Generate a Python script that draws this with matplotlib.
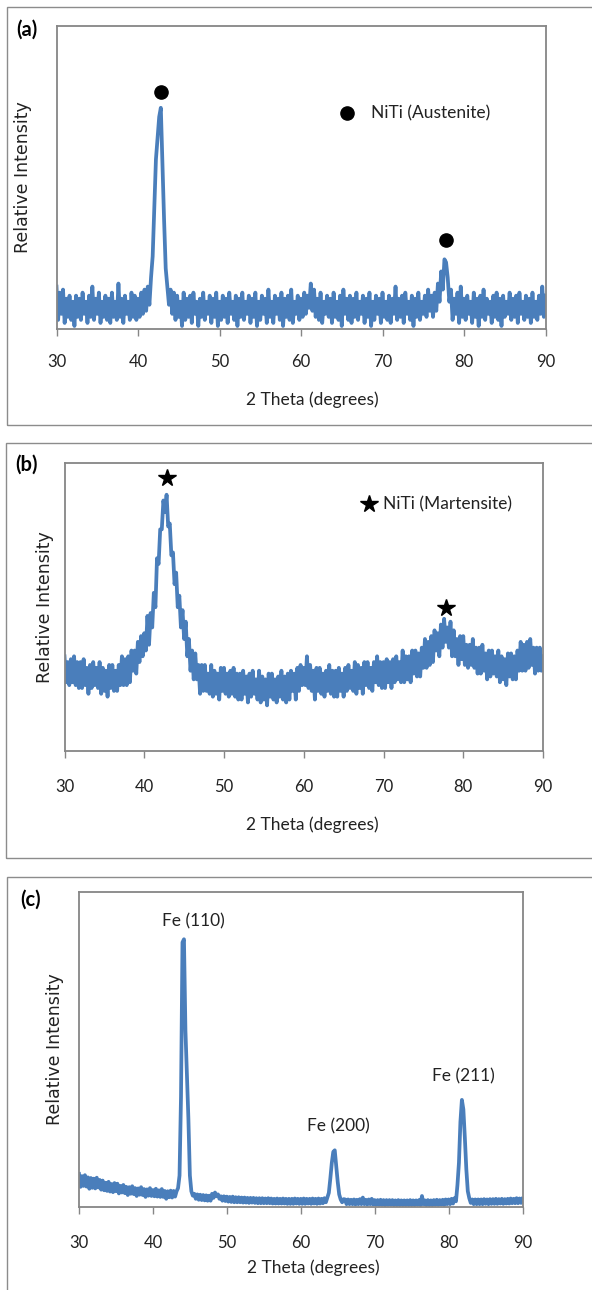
import numpy as np
import matplotlib
matplotlib.use("Agg")
import matplotlib.pyplot as plt
from matplotlib.patches import Rectangle

# 2-theta sampling grid, 0.2 degree steps
two_theta = np.round(np.arange(0, 301) * 0.2 + 30, 1)

# (a) NiTi austenite - relative intensity (0-100)
int_a = [
    14, 3, 12, 5, 13, 2, 10, 4, 11, 3,
    9, 1, 11, 4, 10, 3, 12, 5, 9, 2,
    11, 4, 14, 3, 10, 5, 12, 2, 9, 4,
    11, 3, 10, 2, 12, 4, 9, 3, 15, 4,
    10, 2, 11, 5, 9, 3, 12, 4, 11, 3,
    10, 4, 12, 5, 13, 6, 14, 8, 17, 24,
    40, 56, 63, 70, 73, 54, 36, 20, 14, 8,
    13, 5, 12, 3, 11, 4, 9, 1, 12, 3,
    10, 4, 11, 2, 12, 5, 9, 1, 10, 4,
    12, 3, 9, 5, 11, 2, 10, 4, 12, 1,
    9, 3, 11, 4, 10, 2, 12, 5, 9, 3,
    11, 1, 10, 4, 12, 3, 9, 5, 11, 2,
    10, 4, 12, 1, 9, 3, 11, 5, 10, 2,
    13, 4, 9, 2, 11, 5, 10, 3, 12, 1,
    10, 4, 11, 3, 13, 2, 9, 5, 11, 3,
    10, 4, 12, 5, 11, 7, 15, 6, 13, 4,
    10, 3, 12, 2, 9, 5, 11, 4, 10, 2,
    12, 4, 9, 3, 11, 1, 13, 5, 10, 3,
    11, 2, 10, 4, 12, 3, 9, 5, 11, 2,
    10, 4, 12, 1, 9, 3, 11, 5, 10, 2,
    12, 4, 9, 3, 11, 2, 10, 5, 14, 3,
    10, 4, 11, 2, 12, 5, 9, 3, 11, 1,
    10, 4, 12, 3, 9, 5, 11, 4, 13, 6,
    11, 4, 12, 6, 15, 9, 19, 13, 23, 22,
    17, 9, 13, 3, 10, 5, 12, 2, 14, 4,
    10, 3, 11, 5, 9, 2, 12, 4, 10, 1,
    11, 4, 13, 3, 10, 5, 9, 2, 11, 4,
    12, 3, 10, 1, 11, 4, 9, 5, 12, 3,
    10, 4, 11, 2, 12, 5, 9, 3, 11, 4,
    10, 2, 12, 4, 9, 3, 11, 5, 14, 4,
    11,
]

# (b) NiTi martensite
int_b = [
    33, 24, 31, 23, 32, 24, 33, 23, 31, 22,
    31, 22, 32, 23, 29, 20, 30, 22, 31, 23,
    29, 22, 31, 20, 29, 21, 28, 19, 30, 22,
    30, 21, 28, 21, 30, 23, 33, 23, 32, 23,
    33, 24, 35, 28, 35, 27, 38, 31, 40, 33,
    41, 35, 47, 37, 48, 43, 55, 50, 67, 65,
    77, 77, 87, 83, 89, 78, 79, 68, 69, 58,
    62, 50, 54, 43, 49, 39, 45, 33, 39, 28,
    35, 25, 34, 25, 30, 20, 30, 21, 30, 21,
    27, 20, 30, 19, 28, 20, 27, 18, 29, 21,
    29, 20, 27, 19, 28, 20, 29, 19, 27, 18,
    27, 18, 28, 20, 26, 17, 27, 19, 28, 20,
    25, 18, 28, 17, 26, 18, 25, 16, 27, 19,
    27, 18, 25, 17, 26, 19, 28, 18, 26, 17,
    27, 18, 28, 21, 27, 18, 29, 21, 30, 23,
    29, 23, 33, 22, 30, 21, 28, 18, 29, 21,
    29, 20, 27, 19, 28, 21, 30, 20, 28, 19,
    28, 19, 29, 21, 27, 19, 29, 21, 30, 22,
    28, 21, 31, 20, 30, 22, 29, 20, 31, 23,
    31, 22, 29, 21, 31, 24, 33, 23, 31, 22,
    31, 22, 32, 24, 31, 22, 32, 24, 33, 25,
    31, 24, 35, 24, 33, 25, 33, 24, 35, 27,
    35, 26, 34, 26, 36, 29, 39, 29, 38, 30,
    40, 31, 42, 35, 41, 33, 44, 36, 46, 38,
    43, 36, 45, 33, 42, 33, 39, 30, 40, 32,
    40, 30, 37, 29, 37, 30, 39, 29, 36, 27,
    36, 27, 37, 28, 34, 25, 35, 26, 35, 27,
    33, 26, 35, 24, 33, 25, 32, 23, 34, 26,
    34, 25, 33, 25, 35, 28, 38, 28, 37, 28,
    38, 29, 39, 30, 36, 27, 36, 28, 36, 28,
    33,
]

# (c) Fe (bcc)
int_c = [
    10.5, 6.4, 9.8, 6.7, 10.1, 6.5, 9.4, 5.8, 9.2, 6.1,
    9.0, 5.9, 9.3, 6.2, 8.6, 5.5, 8.4, 5.3, 7.7, 5.1,
    8.0, 4.9, 7.3, 4.7, 7.6, 5.0, 7.4, 4.3, 6.7, 4.6,
    7.0, 4.4, 6.4, 3.8, 6.3, 4.2, 6.6, 4.1, 6.0, 3.5,
    5.9, 3.9, 6.3, 3.8, 5.7, 3.2, 5.6, 3.6, 6.0, 3.5,
    5.4, 3.4, 5.8, 3.3, 5.3, 3.2, 5.7, 3.2, 5.1, 2.6,
    5.0, 3.1, 5.2, 3.0, 5.1, 3.3, 5.0, 6.0, 10.0, 35.0,
    84.0, 85.0, 56.0, 42.0, 28.0, 10.0, 5.0, 3.6, 4.2, 2.6,
    4.0, 2.3, 3.9, 2.2, 3.8, 2.1, 3.7, 2.0, 3.6, 2.0,
    4.2, 2.9, 4.6, 3.4, 4.0, 2.6, 3.4, 2.0, 3.4, 1.9,
    3.3, 1.7, 3.2, 1.6, 3.3, 1.5, 3.1, 1.5, 3.1, 1.5,
    3.0, 1.4, 3.0, 1.4, 2.9, 1.3, 2.9, 1.4, 2.9, 1.3,
    2.8, 1.2, 2.8, 1.2, 2.8, 1.2, 2.7, 1.2, 2.8, 1.2,
    2.7, 1.1, 2.6, 1.1, 2.7, 1.1, 2.6, 1.1, 2.7, 1.1,
    2.6, 1.0, 2.6, 1.0, 2.6, 1.0, 2.7, 1.1, 2.6, 1.0,
    2.6, 1.0, 2.7, 1.0, 2.6, 1.1, 2.6, 1.0, 2.7, 1.1,
    2.6, 1.0, 2.7, 1.1, 2.6, 1.2, 2.8, 1.5, 3.0, 4.5,
    9.0, 14.0, 17.5, 18.0, 13.0, 8.0, 4.0, 2.4, 1.5, 2.5,
    2.4, 0.9, 2.4, 0.9, 2.3, 0.9, 2.4, 0.8, 2.3, 0.9,
    2.5, 0.9, 3.0, 0.9, 2.3, 0.8, 2.4, 0.9, 2.6, 0.8,
    2.2, 0.7, 2.2, 0.7, 2.3, 0.7, 2.2, 0.6, 2.2, 0.7,
    2.2, 0.7, 2.2, 0.6, 2.1, 0.6, 2.2, 0.6, 2.1, 0.6,
    2.1, 0.6, 2.1, 0.6, 2.2, 0.6, 2.1, 0.6, 2.1, 0.7,
    2.2, 0.6, 3.5, 0.9, 2.1, 0.6, 2.2, 0.6, 2.1, 0.6,
    2.2, 0.7, 2.3, 0.7, 2.2, 0.8, 2.3, 0.7, 2.4, 0.9,
    2.4, 0.9, 2.6, 1.1, 2.8, 1.8, 7.0, 14.0, 27.0, 34.0,
    31.0, 22.0, 12.0, 5.0, 2.8, 1.3, 2.4, 0.9, 2.4, 0.9,
    2.4, 0.9, 2.4, 0.9, 2.5, 1.0, 2.4, 0.9, 2.5, 1.0,
    2.5, 1.0, 2.6, 1.0, 2.5, 1.1, 2.6, 1.0, 2.5, 1.1,
    2.6, 1.1, 2.7, 1.2, 2.6, 1.2, 2.8, 1.2, 2.7, 1.3,
    2.6,
]

# peak markers and annotations
aust_x = [42.8, 77.8]
aust_y = [78.2, 29.4]
aust_key = (65.7, 71.3)
mart_x = [42.8, 77.8]
mart_y = [94.7, 49.8]
mart_key = (68.2, 85.7)
fe_labels = ["Fe (110)", "Fe (200)", "Fe (211)"]
fe_x = [45.5, 65.1, 82.0]
fe_y = [90.8, 25.5, 41.6]

W, H = 592, 1290
LINE = "#4a7ebb"
GREY = "#868686"
TXT = ["Lato", "DejaVu Sans"]

fig = plt.figure(figsize=(W / 100, H / 100), dpi=100)


def px_axes(l, r, t, b):
    return fig.add_axes([l / W, 1 - b / H, (r - l) / W, (b - t) / H])


def frame(l, t, b):
    fig.patches.append(Rectangle((l / W, 1 - b / H), 1.2, (b - t) / H,
                                 transform=fig.transFigure, fill=False,
                                 edgecolor="#8c8c8c", lw=1.0))


def style(ax, pad, xlab_y, xlab_x, ylab_x):
    ax.set_xlim(30, 90)
    ax.set_ylim(0, 100)
    ax.set_xticks([30, 40, 50, 60, 70, 80, 90])
    ax.set_yticks([])
    for s in ax.spines.values():
        s.set_color(GREY)
        s.set_linewidth(1.3)
    ax.tick_params(axis="x", direction="out", length=5, width=1, color=GREY,
                   pad=pad, labelsize=12, labelcolor="#222222")
    for lb in ax.get_xticklabels():
        lb.set_family(TXT)
    ax.set_xlabel("2 Theta (degrees)", family=TXT, fontsize=12.5, color="#222222")
    ax.xaxis.set_label_coords(xlab_x, xlab_y)
    ax.set_ylabel("Relative Intensity", family="DejaVu Sans", fontsize=12.5,
                  color="#222222")
    ax.yaxis.set_label_coords(ylab_x, 0.5)


frame(7, 7, 425)
frame(6, 443, 858)
frame(7, 877, 1400)

# (a)
ax1 = px_axes(56.5, 545.5, 26, 329)
ax1.plot(two_theta, int_a, color=LINE, lw=2.7, solid_joinstyle="round")
ax1.plot(aust_x, aust_y, "o", color="black", ms=9.5)
ax1.plot(*aust_key, "o", color="black", ms=9.5)
ax1.text(aust_key[0] + 2.9, aust_key[1], "NiTi (Austenite)", family=TXT,
         fontsize=12.5, va="center", color="#222222")
style(ax1, 13, -0.205, 0.523, -0.05)
fig.text(27 / W, 1 - 30 / H, "(a)", family=TXT, fontsize=14.5, weight="bold",
         ha="center", va="center")

# (b)
ax2 = px_axes(64.5, 543, 463, 751.5)
ax2.plot(two_theta, int_b, color=LINE, lw=2.7, solid_joinstyle="round")
ax2.plot(mart_x, mart_y, "*", color="black", ms=13)
ax2.plot(*mart_key, "*", color="black", ms=13)
ax2.text(mart_key[0] + 1.7, mart_key[1], "NiTi (Martensite)", family=TXT,
         fontsize=12.5, va="center", color="#222222")
style(ax2, 14.5, -0.225, 0.517, -0.021)
fig.text(27 / W, 1 - 465 / H, "(b)", family=TXT, fontsize=14.5, weight="bold",
         ha="center", va="center")

# (c)
ax3 = px_axes(79, 522.5, 892, 1207)
ax3.plot(two_theta, int_c, color=LINE, lw=2.7, solid_joinstyle="round")
for lab, x, y in zip(fe_labels, fe_x, fe_y):
    ax3.text(x, y, lab, family=TXT, fontsize=12.5, ha="center", va="center",
             color="#222222")
style(ax3, 15, -0.168, 0.528, -0.034)
fig.text(31 / W, 1 - 900 / H, "(c)", family=TXT, fontsize=14.5, weight="bold",
         ha="center", va="center")

fig.savefig("out.png", dpi=100)
